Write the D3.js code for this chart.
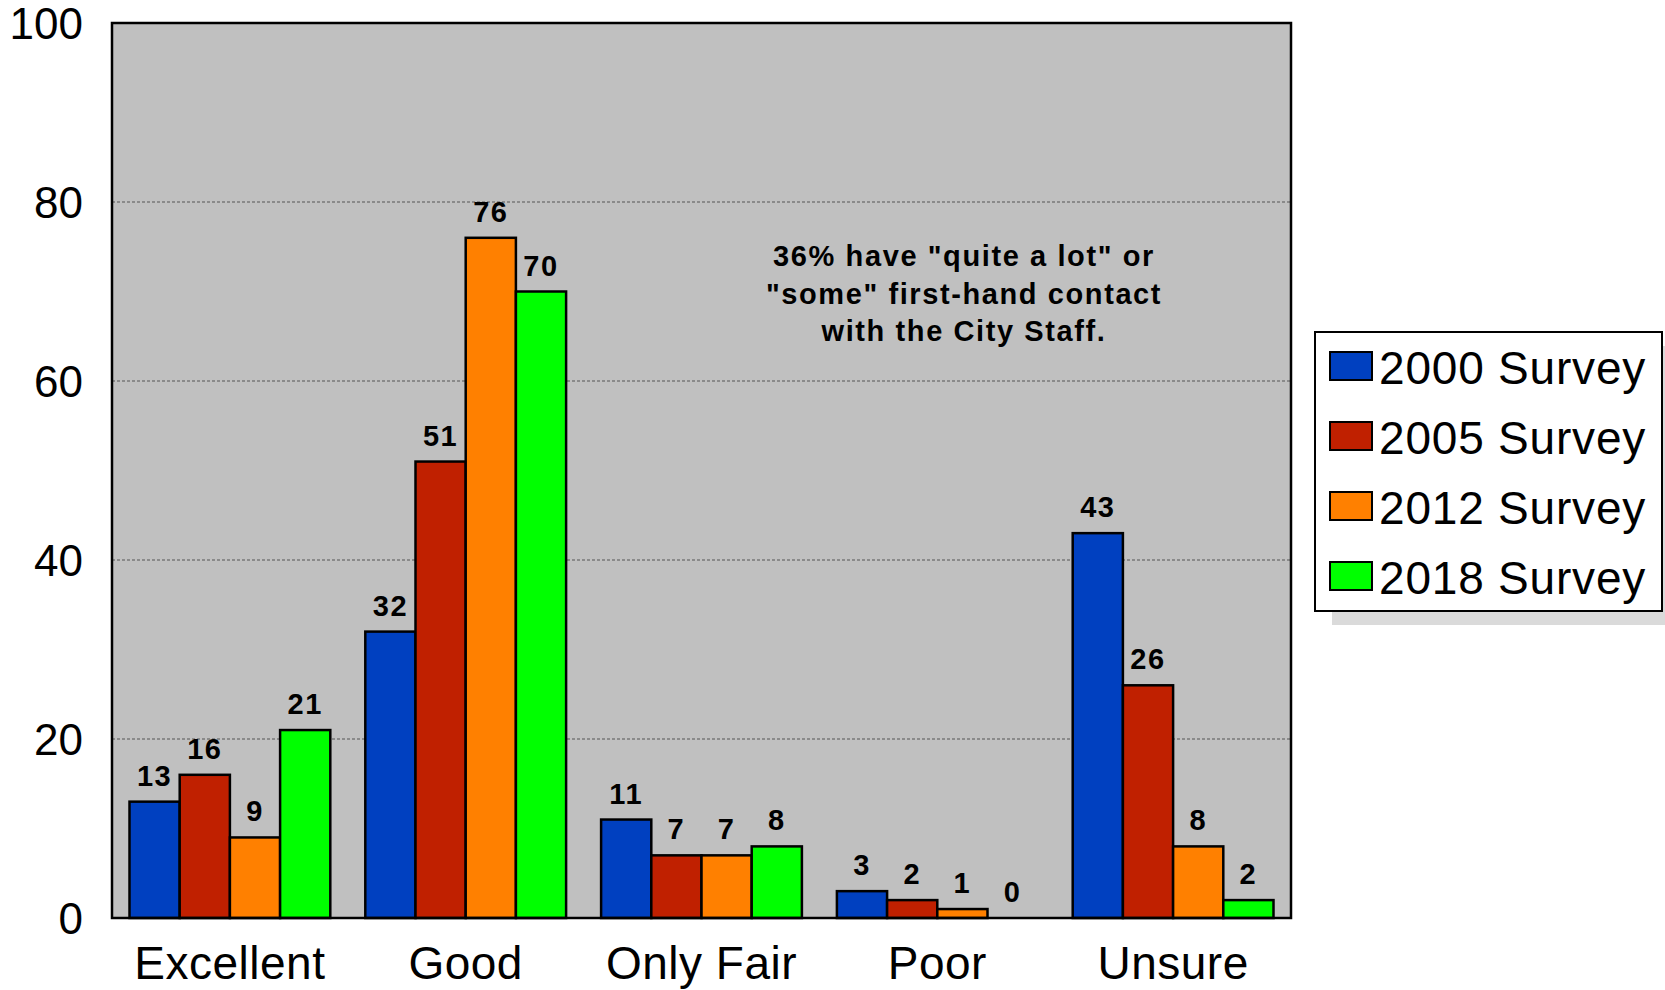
<!DOCTYPE html>
<html>
<head>
<meta charset="utf-8">
<script src="https://cdn.jsdelivr.net/npm/d3@7"></script>
<style>
  body { margin: 0; background: #fff; }
  text { font-family: "Liberation Sans", Arial, sans-serif; }
</style>
</head>
<body>
<svg id="chart"></svg>
<script>
// data
var categories = ["Excellent", "Good", "Only Fair", "Poor", "Unsure"]
var surveys = ["2000 Survey", "2005 Survey", "2012 Survey", "2018 Survey"]
var survey2000 = [13, 32, 11, 3, 43]
var survey2005 = [16, 51, 7, 2, 26]
var survey2012 = [9, 76, 7, 1, 8]
var survey2018 = [21, 70, 8, 0, 2]
var yTicks = [0, 20, 40, 60, 80, 100]
var colors = ["#0040C0", "#C02000", "#FF8000", "#00FF00"]
var noteLines = ["36% have \"quite a lot\" or", "\"some\" first-hand contact", "with the City Staff."]

var width = 1665
var height = 990
var plot = { left: 112, right: 1291, top: 23, bottom: 918 }

var seriesValues = [survey2000, survey2005, survey2012, survey2018]
var rows = []
categories.forEach((c, i) => {
  surveys.forEach((s, j) => {
    rows.push({ category: c, survey: s, value: seriesValues[j][i], idx: j })
  })
})

var svg = d3.select("#chart").attr("width", width).attr("height", height)

var x0 = d3.scaleBand()
  .domain(categories)
  .range([plot.left, plot.right])

var groupPad = 17.5
var x1 = d3.scaleBand()
  .domain(surveys)
  .range([groupPad, x0.bandwidth() - groupPad])

var y = d3.scaleLinear()
  .domain([0, 100])
  .range([plot.bottom, plot.top])

// plot background
svg.append("rect")
  .attr("x", plot.left).attr("y", plot.top)
  .attr("width", plot.right - plot.left).attr("height", plot.bottom - plot.top)
  .attr("fill", "#C0C0C0")

// gridlines
svg.append("g").selectAll("line")
  .data(yTicks.filter(t => t > 0 && t < 100))
  .enter().append("line")
  .attr("x1", plot.left).attr("x2", plot.right)
  .attr("y1", d => y(d)).attr("y2", d => y(d))
  .attr("stroke", "#555").attr("stroke-width", 1)
  .attr("stroke-dasharray", "3,2")

// bars
var bars = svg.append("g").selectAll("g")
  .data(rows)
  .enter().append("g")

bars.append("rect")
  .attr("x", d => x0(d.category) + x1(d.survey))
  .attr("y", d => y(d.value))
  .attr("width", x1.bandwidth())
  .attr("height", d => y(0) - y(d.value))
  .attr("fill", d => colors[d.idx])
  .attr("stroke", "#000")
  .attr("stroke-width", 2.5)

// value labels
bars.append("text")
  .attr("x", d => x0(d.category) + x1(d.survey) + x1.bandwidth() / 2)
  .attr("y", d => y(d.value) - 16)
  .attr("text-anchor", "middle")
  .attr("font-size", 29)
  .attr("font-weight", "bold")
  .attr("letter-spacing", 1.5)
  .text(d => d.value)

// plot frame
svg.append("rect")
  .attr("x", plot.left).attr("y", plot.top)
  .attr("width", plot.right - plot.left).attr("height", plot.bottom - plot.top)
  .attr("fill", "none")
  .attr("stroke", "#000").attr("stroke-width", 2.5)

// y axis labels
svg.append("g").selectAll("text")
  .data(yTicks)
  .enter().append("text")
  .attr("x", 83)
  .attr("y", d => y(d) + 16)
  .attr("text-anchor", "end")
  .attr("font-size", 44)
  .text(d => d)

// x axis labels
svg.append("g").selectAll("text")
  .data(categories)
  .enter().append("text")
  .attr("x", d => x0(d) + x0.bandwidth() / 2)
  .attr("y", 979)
  .attr("text-anchor", "middle")
  .attr("font-size", 46)
  .attr("letter-spacing", 0.5)
  .text(d => d)

// annotation
svg.append("text")
  .attr("text-anchor", "middle")
  .attr("font-size", 29)
  .attr("font-weight", "bold")
  .attr("letter-spacing", 1.6)
  .selectAll("tspan")
  .data(noteLines)
  .enter().append("tspan")
  .attr("x", 964)
  .attr("y", (d, i) => 266 + i * 37.5)
  .text(d => d)

// legend with shadow
var legend = { x: 1315, y: 332, w: 347, h: 279 }
svg.append("rect")
  .attr("x", legend.x + 17).attr("y", legend.y + 14)
  .attr("width", legend.w).attr("height", legend.h)
  .attr("fill", "#DADADA")
svg.append("rect")
  .attr("x", legend.x).attr("y", legend.y)
  .attr("width", legend.w).attr("height", legend.h)
  .attr("fill", "#fff").attr("stroke", "#000").attr("stroke-width", 2)

var items = svg.append("g").selectAll("g")
  .data(surveys)
  .enter().append("g")
  .attr("transform", (d, i) => `translate(0,${i * 70})`)

items.append("rect")
  .attr("x", 1330).attr("y", 352)
  .attr("width", 42).attr("height", 28)
  .attr("fill", (d, i) => colors[i])
  .attr("stroke", "#000").attr("stroke-width", 2)

items.append("text")
  .attr("x", 1379).attr("y", 384)
  .attr("font-size", 46)
  .attr("letter-spacing", 0.8)
  .text(d => d)
</script>
</body>
</html>
